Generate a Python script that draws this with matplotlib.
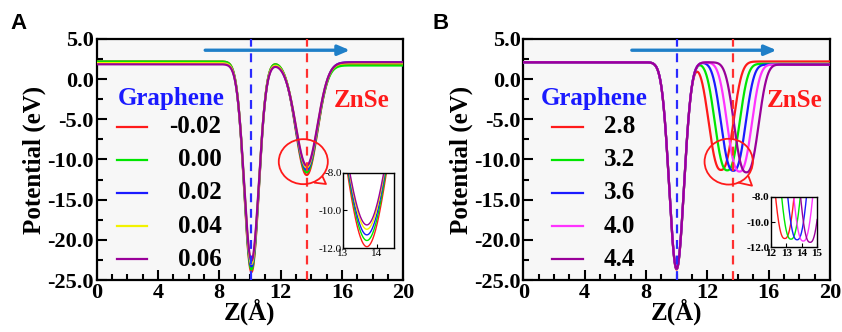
import numpy as np
import matplotlib
matplotlib.use("Agg")
import matplotlib.pyplot as plt
from matplotlib.patches import Ellipse
from matplotlib.ticker import MultipleLocator, FormatStrFormatter

plt.rcParams['font.family'] = ['Liberation Serif', 'DejaVu Serif']
plt.rcParams['font.weight'] = 'bold'
plt.rcParams['axes.unicode_minus'] = False

# ---- data ----
# panel A: strain series
labels_a = ["-0.02", "0.00", "0.02", "0.04", "0.06"]
colors_a = ["#ff1a1a", "#00e600", "#1a1aff", "#f2f200", "#990099"]
left_plateau_a = [2.2, 2.2, 2.0, 2.0, 1.85]
right_plateau_a = [1.9, 1.7, 2.1, 2.0, 2.1]
gr_center_a = [10.1, 10.1, 10.1, 10.1, 10.1]
gr_bottom_a = [-24.0, -23.7, -23.3, -23.0, -22.6]
zn_center_a = [13.7, 13.7, 13.7, 13.7, 13.7]
zn_bottom_a = [-11.93, -11.6, -11.3, -11.0, -10.77]

# panel B: interlayer distance series
labels_b = ["2.8", "3.2", "3.6", "4.0", "4.4"]
colors_b = ["#ff1a1a", "#00e600", "#1a1aff", "#ff33ff", "#990099"]
left_plateau_b = [2.1, 2.1, 2.1, 2.1, 2.1]
right_plateau_b = [2.2, 1.9, 1.8, 1.8, 1.8]
gr_center_b = [10.0, 10.0, 10.0, 10.0, 10.0]
gr_bottom_b = [-23.7, -23.6, -23.6, -23.6, -23.6]
zn_center_b = [12.9, 13.3, 13.7, 14.1, 14.55]
zn_bottom_b = [-11.3, -11.35, -11.4, -11.5, -11.6]

z = np.linspace(0, 20, 2001)


def well(z, c, w, p):
    return np.exp(-(np.abs(z - c) / w) ** p)


def profile(L, R, gc, gb, zc, zb, zw, zp):
    base = L + (R - L) / (1 + np.exp(-(z - zc - 1.2) / 0.4))
    bg = L
    bz = L + (R - L) / (1 + np.exp(1.2 / 0.4))
    return base - (bg - gb) * well(z, gc, 0.68, 2.0) - (bz - zb) * well(z, zc, zw, zp)


fig = plt.figure(figsize=(8.42, 3.32), dpi=100)

panels = [
    dict(letter="A", x0=0.1148, lx=0.012, labels=labels_a, colors=colors_a,
         L=left_plateau_a, R=right_plateau_a, gc=gr_center_a, gb=gr_bottom_a,
         zc=zn_center_a, zb=zn_bottom_a, zw=1.0, zp=2.0,
         vblue=10.1, vred=13.74, leg_x=(1.3, 3.26), lab_x=8.15,
         gr_x=4.85, zn_x=17.3, bub=(13.48, -10.27, 3.2, 5.6),
         tail=[(14.24, -12.89), (14.96, -13.05), (14.74, -12.14)],
         inset=[0.4074, 0.253, 0.0606, 0.226], ixlim=(13, 14.5), ixt=[13, 14],
         iweight='normal'),
    dict(letter="B", x0=0.6215, lx=0.514, labels=labels_b, colors=colors_b,
         L=left_plateau_b, R=right_plateau_b, gc=gr_center_b, gb=gr_bottom_b,
         zc=zn_center_b, zb=zn_bottom_b, zw=1.0, zp=2.5,
         vblue=10.0, vred=13.7, leg_x=(1.85, 3.92), lab_x=7.3,
         gr_x=4.62, zn_x=17.7, bub=(13.4, -10.27, 3.15, 5.7),
         tail=[(14.05, -12.89), (14.92, -13.26), (14.7, -12.14)],
         inset=[0.9157, 0.255, 0.0546, 0.152], ixlim=(12, 15), ixt=[12, 13, 14, 15],
         iweight='bold'),
]

leg_y = [-5.92, -10.06, -14.13, -18.28, -22.42]

for pnl in panels:
    ax = fig.add_axes([pnl["x0"], 0.1566, 0.3641, 0.726])
    ax.set_facecolor("#f7f7f7")
    curves = []
    for i in range(5):
        v = profile(pnl["L"][i], pnl["R"][i], pnl["gc"][i], pnl["gb"][i],
                    pnl["zc"][i], pnl["zb"][i], pnl["zw"], pnl["zp"])
        curves.append(v)
        ax.plot(z, v, color=pnl["colors"][i], lw=1.6, zorder=3)
        ax.plot(pnl["leg_x"], [leg_y[i]] * 2, color=pnl["colors"][i], lw=1.6)
        ax.text(pnl["lab_x"], leg_y[i], pnl["labels"][i], ha="right", va="center",
                fontsize=18, fontweight="bold")

    ax.axvline(pnl["vblue"], color="#2a2aff", ls=(0, (4, 3)), lw=1.6, zorder=4)
    ax.axvline(pnl["vred"], color="#ff3030", ls=(0, (4, 3)), lw=1.6, zorder=4)
    ax.annotate("", xy=(16.7, 3.6), xytext=(6.9, 3.6),
                arrowprops=dict(arrowstyle="-|>,head_length=0.7,head_width=0.3",
                                color="#1f7fc8", lw=2.4))
    ax.text(pnl["gr_x"], -2.35, "Graphene", color="#1a1aff", fontsize=18,
            fontweight="bold", ha="center", va="center")
    ax.text(pnl["zn_x"], -2.6, "ZnSe", color="#ff1a1a", fontsize=18,
            fontweight="bold", ha="center", va="center")

    bx, by, bw, bh = pnl["bub"]
    ax.add_patch(Ellipse((bx, by), bw, bh, fill=False, edgecolor="#ff1a1a",
                         lw=1.3, zorder=5))
    tx, ty = zip(*pnl["tail"])
    ax.plot(tx, ty, color="#ff1a1a", lw=1.3, zorder=5)

    ax.set_xlim(0, 20)
    ax.set_ylim(-25, 5)
    ax.xaxis.set_major_locator(MultipleLocator(4))
    ax.xaxis.set_minor_locator(MultipleLocator(1))
    ax.yaxis.set_major_locator(MultipleLocator(5))
    ax.yaxis.set_minor_locator(MultipleLocator(2.5))
    ax.yaxis.set_major_formatter(FormatStrFormatter("%.1f"))
    ax.tick_params(which="both", direction="in", width=1.5, labelsize=16, pad=2)
    ax.tick_params(which="major", length=7)
    ax.tick_params(which="minor", length=4)
    for s in ax.spines.values():
        s.set_linewidth(1.6)
    ax.set_xlabel("Z(Å)", fontsize=18, fontweight="bold", labelpad=-3)
    ax.set_ylabel("Potential (eV)", fontsize=18, fontweight="bold", labelpad=1)
    fig.text(pnl["lx"], 0.93, pnl["letter"], fontsize=16, fontweight="bold",
             family="Liberation Sans", ha="left", va="center")

    ins = fig.add_axes(pnl["inset"])
    ins.set_facecolor("white")
    for i in range(5):
        ins.plot(z, curves[i], color=pnl["colors"][i], lw=1.0)
    ins.set_xlim(*pnl["ixlim"])
    ins.set_ylim(-12, -8)
    ins.set_xticks(pnl["ixt"])
    ins.set_yticks([-12, -10, -8])
    ins.yaxis.set_major_formatter(FormatStrFormatter("%.1f"))
    ins.tick_params(direction="in", length=3, width=0.8, labelsize=8, pad=1)
    for lab in ins.get_xticklabels() + ins.get_yticklabels():
        lab.set_fontweight(pnl["iweight"])
    for s in ins.spines.values():
        s.set_linewidth(1.0)

fig.savefig("out.png", dpi=100)
